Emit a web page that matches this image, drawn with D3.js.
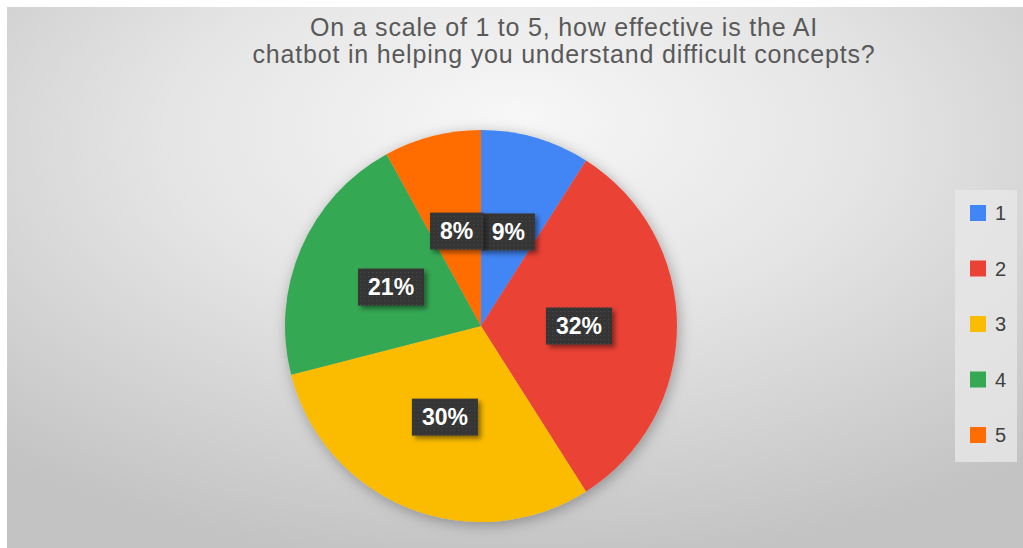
<!DOCTYPE html>
<html>
<head>
<meta charset="utf-8">
<script src="https://cdn.jsdelivr.net/npm/d3@7/dist/d3.min.js"></script>
<style>
  html, body { margin: 0; padding: 0; background: #ffffff; }
  svg { display: block; }
</style>
</head>
<body>
<svg id="chart" width="1023" height="548"></svg>
<script>
// Survey answers (rating 1–5) and their share of responses, in percent
const categories = ["1", "2", "3", "4", "5"];
const shares = [9, 32, 30, 21, 8];
const sliceColors = ["#4285F4", "#EA4335", "#FBBC04", "#34A853", "#FF6D01"];
const titleLines = [
  "On a scale of 1 to 5, how effective is the AI",
  "chatbot in helping you understand difficult concepts?"
];

const W = 1023, H = 548;
const svg = d3.select("#chart");
const defs = svg.append("defs");

// Soft grey radial backdrop
const bg = defs.append("radialGradient")
  .attr("id", "bgGrad")
  .attr("cx", "0.5").attr("cy", "0.28").attr("r", "0.75")
  .attr("fx", "0.5").attr("fy", "0.2");
bg.append("stop").attr("offset", "0").attr("stop-color", "#f7f7f7");
bg.append("stop").attr("offset", "0.45").attr("stop-color", "#e5e5e5");
bg.append("stop").attr("offset", "1").attr("stop-color", "#c3c3c3");

// Shadow under the pie
const pieShadow = defs.append("filter").attr("id", "pieShadow")
  .attr("x", "-20%").attr("y", "-20%").attr("width", "140%").attr("height", "140%");
pieShadow.append("feDropShadow")
  .attr("dx", 2).attr("dy", 3).attr("stdDeviation", 7)
  .attr("flood-color", "#000").attr("flood-opacity", 0.3);

// Shadow under the value badges
const badgeShadow = defs.append("filter").attr("id", "badgeShadow")
  .attr("x", "-30%").attr("y", "-30%").attr("width", "170%").attr("height", "170%");
badgeShadow.append("feDropShadow")
  .attr("dx", 3).attr("dy", 3).attr("stdDeviation", 2.5)
  .attr("flood-color", "#000").attr("flood-opacity", 0.45);

// Fine dotted texture for the badges
const dots = defs.append("pattern").attr("id", "dots")
  .attr("width", 4).attr("height", 4).attr("patternUnits", "userSpaceOnUse");
dots.append("rect").attr("width", 4).attr("height", 4).attr("fill", "#363636");
dots.append("rect").attr("x", 1).attr("y", 1).attr("width", 1).attr("height", 1).attr("fill", "#4b4b4b");

// Chart area
svg.append("rect")
  .attr("x", 7).attr("y", 7).attr("width", W - 7).attr("height", H - 7)
  .attr("fill", "url(#bgGrad)");

// Title, one text element per line
svg.append("g")
  .selectAll("text")
  .data(titleLines)
  .join("text")
  .attr("x", 564)
  .attr("y", (d, i) => 36 + i * 27)
  .attr("text-anchor", "middle")
  .attr("fill", "#595959")
  .style("font-family", "'Liberation Sans', Arial, sans-serif")
  .style("font-size", "25px")
  .style("letter-spacing", "0.8px")
  .text(d => d);

// Pie
const cx = 481, cy = 326, radius = 196;
const pie = d3.pie().sort(null).value(d => d.value);
const arcs = pie(categories.map((c, i) => ({ key: c, value: shares[i] })));
const color = d3.scaleOrdinal().domain(categories).range(sliceColors);
const arc = d3.arc().innerRadius(0).outerRadius(radius);

const pieG = svg.append("g").attr("transform", `translate(${cx},${cy})`);
pieG.append("g").attr("filter", "url(#pieShadow)")
  .selectAll("path")
  .data(arcs)
  .join("path")
  .attr("d", arc)
  .attr("fill", d => color(d.data.key));

// Value badges at each slice centroid
const badges = pieG.selectAll("g.badge")
  .data(arcs)
  .join("g")
  .attr("class", "badge")
  .attr("transform", d => `translate(${arc.centroid(d)})`);

badges.each(function (d) {
  const g = d3.select(this);
  const t = g.append("text")
    .attr("text-anchor", "middle")
    .attr("dy", "0.36em")
    .attr("fill", "#ffffff")
    .style("font-family", "'Liberation Sans', Arial, sans-serif")
    .style("font-weight", "bold")
    .style("font-size", "23px")
    .text(d.data.value + "%");
  const w = t.node().getComputedTextLength() + 20;
  const h = 37;
  g.insert("rect", "text")
    .attr("x", -w / 2).attr("y", -h / 2)
    .attr("width", w).attr("height", h)
    .attr("fill", "url(#dots)")
    .attr("filter", "url(#badgeShadow)");
});

// Legend
const legend = svg.append("g");
legend.append("rect")
  .attr("x", 955).attr("y", 190).attr("width", 62).attr("height", 272)
  .attr("fill", "#e7e7e7").attr("opacity", 0.8);

const legendY = d3.scalePoint().domain(categories).range([213, 435]);
const items = legend.selectAll("g.item")
  .data(categories)
  .join("g")
  .attr("class", "item")
  .attr("transform", d => `translate(0,${legendY(d)})`);
items.append("rect")
  .attr("x", 970).attr("y", -8).attr("width", 16).attr("height", 16)
  .attr("fill", d => color(d));
items.append("text")
  .attr("x", 995).attr("dy", "0.36em")
  .attr("fill", "#404040")
  .style("font-family", "'Liberation Sans', Arial, sans-serif")
  .style("font-size", "20px")
  .text(d => d);
</script>
</body>
</html>
